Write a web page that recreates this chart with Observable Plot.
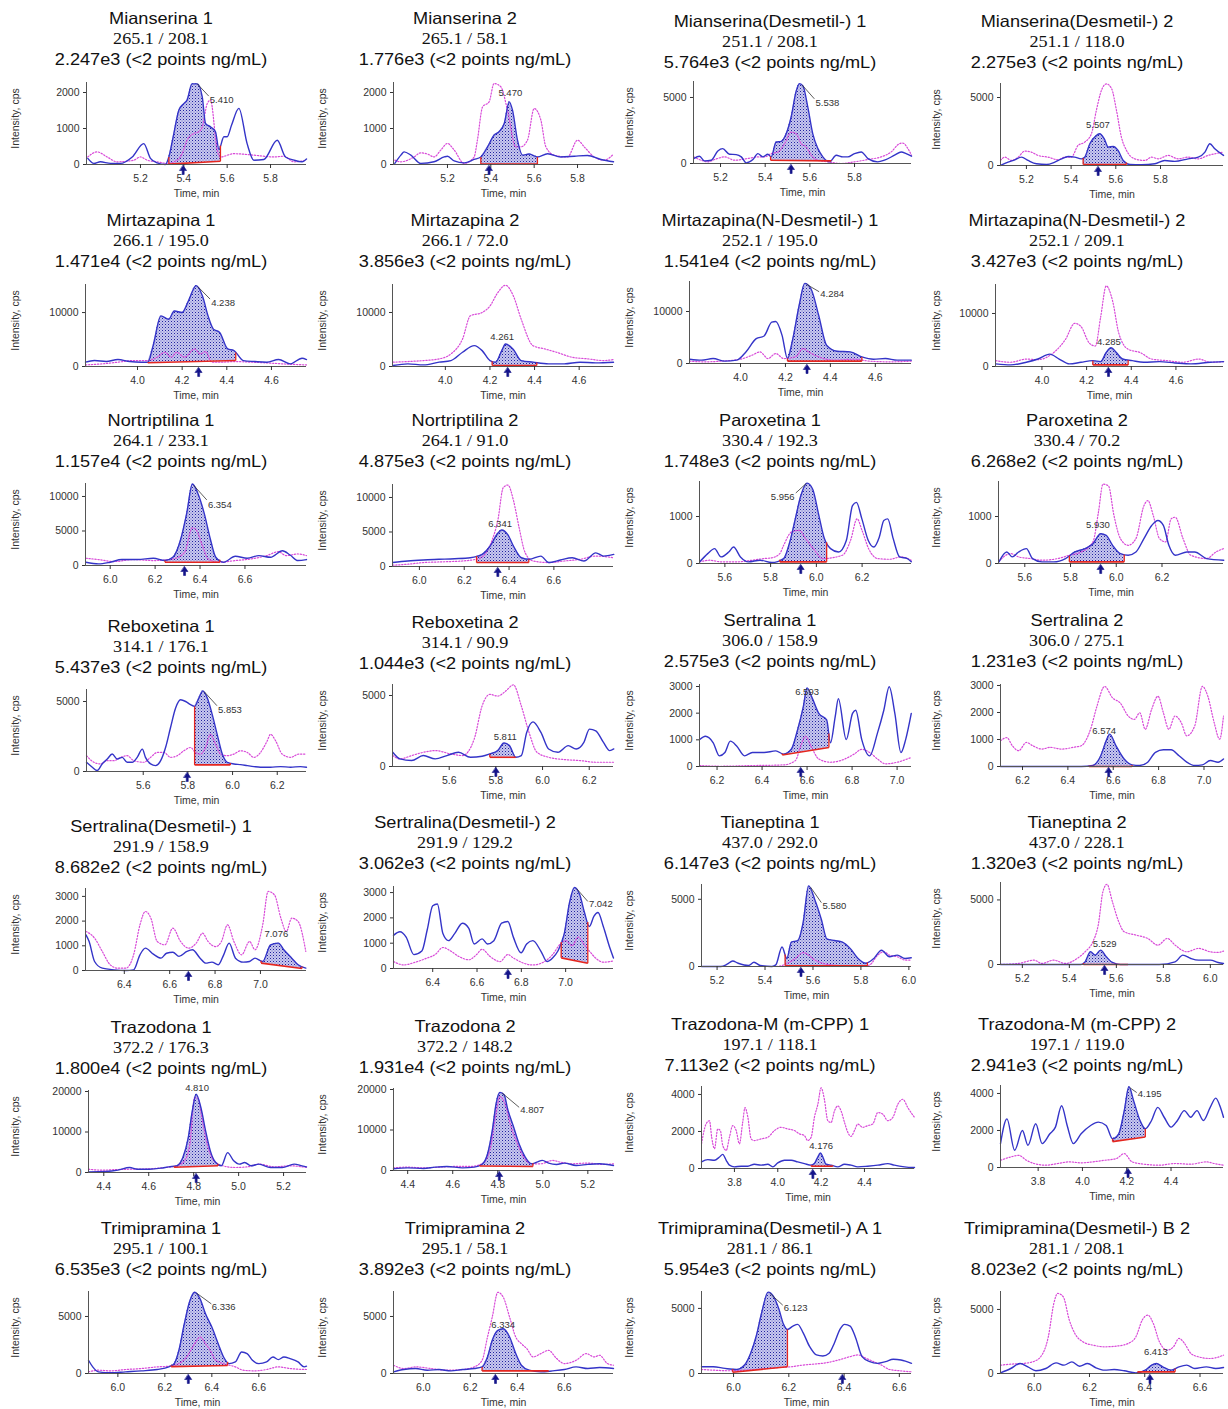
<!DOCTYPE html>
<html><head><meta charset="utf-8">
<script src="https://cdn.jsdelivr.net/npm/d3@7"></script>
<script src="https://cdn.jsdelivr.net/npm/@observablehq/plot@0.6"></script>
<style>
body{margin:0;background:#fff;}
#page{position:relative;width:1228px;height:1409px;overflow:hidden;background:#fff;}
.t{position:absolute;white-space:nowrap;color:#111;font-size:16.5px;line-height:1;transform:translate(-50%,-50%) scaleX(1.1);}
.sans{font-family:"Liberation Sans",Arial,sans-serif;}
.serif{font-family:"Liberation Serif","Times New Roman",serif;}
</style></head><body>
<svg width="0" height="0" style="position:absolute"><defs>
<pattern id="dots" width="3" height="3" patternUnits="userSpaceOnUse"><rect width="3" height="3" fill="#c8c8ee"/><rect width="1" height="1" fill="#2020a0"/><rect x="1.5" y="1.5" width="1" height="1" fill="#6a6ac8"/></pattern>
</defs></svg>
<div id="page"></div>
<script>
// ---------- text ----------
const titles = ["Mianserina 1","Mianserina 2","Mianserina(Desmetil-) 1","Mianserina(Desmetil-) 2",
"Mirtazapina 1","Mirtazapina 2","Mirtazapina(N-Desmetil-) 1","Mirtazapina(N-Desmetil-) 2",
"Nortriptilina 1","Nortriptilina 2","Paroxetina 1","Paroxetina 2",
"Reboxetina 1","Reboxetina 2","Sertralina 1","Sertralina 2",
"Sertralina(Desmetil-) 1","Sertralina(Desmetil-) 2","Tianeptina 1","Tianeptina 2",
"Trazodona 1","Trazodona 2","Trazodona-M (m-CPP) 1","Trazodona-M (m-CPP) 2",
"Trimipramina 1","Trimipramina 2","Trimipramina(Desmetil-) A 1","Trimipramina(Desmetil-) B 2"];
const transitions = ["265.1 / 208.1","265.1 / 58.1","251.1 / 208.1","251.1 / 118.0",
"266.1 / 195.0","266.1 / 72.0","252.1 / 195.0","252.1 / 209.1",
"264.1 / 233.1","264.1 / 91.0","330.4 / 192.3","330.4 / 70.2",
"314.1 / 176.1","314.1 / 90.9","306.0 / 158.9","306.0 / 275.1",
"291.9 / 158.9","291.9 / 129.2","437.0 / 292.0","437.0 / 228.1",
"372.2 / 176.3","372.2 / 148.2","197.1 / 118.1","197.1 / 119.0",
"295.1 / 100.1","295.1 / 58.1","281.1 / 86.1","281.1 / 208.1"];
const heights = ["2.247e3","1.776e3","5.764e3","2.275e3","1.471e4","3.856e3","1.541e4","3.427e3",
"1.157e4","4.875e3","1.748e3","6.268e2","5.437e3","1.044e3","2.575e3","1.231e3",
"8.682e2","3.062e3","6.147e3","1.320e3","1.800e4","1.931e4","7.113e2","2.941e3",
"6.535e3","3.892e3","5.954e3","8.023e2"];
const unitText = " (<2 points ng/mL)";

// ---------- scales / ticks ----------
const xDomain = [[4.951,5.966],[4.951,5.966],[5.079,6.055],[5.084,6.082],
[3.767,4.757],[3.763,4.754],[3.773,4.761],[3.792,4.813],
[5.89,6.874],[5.88,6.866],[5.489,6.416],[5.485,6.469],
[5.346,6.331],[5.357,6.304],[6.122,7.064],[6.103,7.086],
[6.229,7.203],[6.223,7.216],[5.135,6.011],[5.107,6.056],
[4.332,5.302],[4.337,5.314],[3.648,4.631],[3.63,4.637],
[5.875,6.803],[5.873,6.809],[5.884,6.644],[5.878,6.685]];
const yMax = [2278,2278,6210,6030,15200,15185,15770,15470,11880,11880,1745,1745,5857,5775,3075,3037,
3320,3240,6100,6350,20250,20250,4430,4430,7190,7190,6300,6400];
const xTicks = [[5.2,5.4,5.6,5.8],[5.2,5.4,5.6,5.8],[5.2,5.4,5.6,5.8],[5.2,5.4,5.6,5.8],
[4.0,4.2,4.4,4.6],[4.0,4.2,4.4,4.6],[4.0,4.2,4.4,4.6],[4.0,4.2,4.4,4.6],
[6.0,6.2,6.4,6.6],[6.0,6.2,6.4,6.6],[5.6,5.8,6.0,6.2],[5.6,5.8,6.0,6.2],
[5.6,5.8,6.0,6.2],[5.6,5.8,6.0,6.2],[6.2,6.4,6.6,6.8,7.0],[6.2,6.4,6.6,6.8,7.0],
[6.4,6.6,6.8,7.0],[6.4,6.6,6.8,7.0],[5.2,5.4,5.6,5.8,6.0],[5.2,5.4,5.6,5.8,6.0],
[4.4,4.6,4.8,5.0,5.2],[4.4,4.6,4.8,5.0,5.2],[3.8,4.0,4.2,4.4],[3.8,4.0,4.2,4.4],
[6.0,6.2,6.4,6.6],[6.0,6.2,6.4,6.6],[6.0,6.2,6.4,6.6],[6.0,6.2,6.4,6.6]];
const yTicks = [[0,1000,2000],[0,1000,2000],[0,5000],[0,5000],
[0,10000],[0,10000],[0,10000],[0,10000],
[0,5000,10000],[0,5000,10000],[0,1000],[0,1000],
[0,5000],[0,5000],[0,1000,2000,3000],[0,1000,2000,3000],
[0,1000,2000,3000],[0,1000,2000,3000],[0,5000],[0,5000],
[0,10000,20000],[0,10000,20000],[0,2000,4000],[0,2000,4000],
[0,5000],[0,5000],[0,5000],[0,5000]];

// ---------- traces [time, intensity] : blue = solid, pink = dotted ----------
const b01=[[4.957,170],[4.985,30],[5.015,75],[5.062,30],[5.108,30],[5.162,210],[5.215,580],[5.246,170],[5.277,45],[5.315,0],[5.331,210],[5.354,860],[5.377,1510],[5.4,1690],[5.415,1790],[5.438,2240],[5.462,2240],[5.485,1880],[5.5,1140],[5.523,1045],[5.546,910],[5.562,420],[5.585,770],[5.6,770],[5.62,1090],[5.654,1560],[5.692,580],[5.723,120],[5.769,140],[5.831,675],[5.869,210],[5.908,120],[5.946,75],[5.966,150]];
const m01=[[4.957,210],[5.0,350],[5.046,210],[5.092,75],[5.169,120],[5.2,210],[5.231,120],[5.277,75],[5.323,30],[5.369,120],[5.392,300],[5.415,675],[5.446,860],[5.469,910],[5.485,1045],[5.508,1690],[5.523,1790],[5.554,400],[5.569,210],[5.631,300],[5.723,260],[5.815,210],[5.862,230],[5.908,75],[5.966,120]];
const b02=[[4.957,30],[4.985,260],[5.0,350],[5.031,260],[5.077,30],[5.138,75],[5.185,210],[5.2,230],[5.231,100],[5.277,45],[5.323,140],[5.354,210],[5.385,490],[5.415,815],[5.438,910],[5.462,1140],[5.485,1740],[5.5,1510],[5.523,675],[5.546,260],[5.577,290],[5.615,210],[5.662,300],[5.723,210],[5.785,230],[5.846,250],[5.908,140],[5.966,75]];
const m02=[[4.957,120],[4.985,75],[5.046,210],[5.077,325],[5.108,290],[5.138,210],[5.169,400],[5.2,585],[5.231,400],[5.277,30],[5.323,210],[5.338,675],[5.362,1600],[5.392,1740],[5.415,2250],[5.446,2160],[5.477,1510],[5.515,490],[5.538,490],[5.569,675],[5.6,1555],[5.631,1230],[5.654,490],[5.692,260],[5.754,210],[5.8,675],[5.831,490],[5.877,210],[5.923,120],[5.966,290]];
const b03=[[5.08,375],[5.106,550],[5.128,200],[5.158,250],[5.188,950],[5.21,1125],[5.24,700],[5.27,675],[5.293,500],[5.315,50],[5.345,300],[5.367,750],[5.39,500],[5.412,700],[5.427,500],[5.449,1625],[5.472,1675],[5.494,2250],[5.516,3500],[5.539,5500],[5.554,6050],[5.569,5875],[5.591,4250],[5.613,2250],[5.636,1125],[5.658,500],[5.688,125],[5.718,625],[5.748,500],[5.77,500],[5.8,750],[5.83,875],[5.86,375],[5.904,125],[5.934,250],[5.979,625],[6.009,875],[6.031,750],[6.055,550]];
const m03=[[5.08,500],[5.113,250],[5.143,125],[5.173,300],[5.218,500],[5.263,250],[5.322,375],[5.367,500],[5.397,500],[5.427,750],[5.457,875],[5.487,1500],[5.516,2375],[5.539,2250],[5.561,1500],[5.584,1250],[5.606,625],[5.636,250],[5.681,125],[5.74,0],[5.8,125],[5.86,300],[5.919,500],[5.964,875],[6.001,1500],[6.016,1550],[6.039,1125],[6.055,625]];
const b04=[[5.084,0],[5.118,250],[5.148,420],[5.178,615],[5.207,370],[5.245,125],[5.29,75],[5.327,250],[5.357,490],[5.387,665],[5.416,615],[5.446,490],[5.461,615],[5.484,1600],[5.506,2090],[5.528,2340],[5.548,1970],[5.566,1350],[5.588,1400],[5.61,1110],[5.633,370],[5.663,75],[5.715,50],[5.775,125],[5.819,370],[5.864,300],[5.924,490],[5.969,615],[5.999,985],[6.021,1600],[6.043,1230],[6.082,740]];
const m04=[[5.084,370],[5.103,615],[5.133,370],[5.163,615],[5.193,1060],[5.222,985],[5.252,740],[5.297,615],[5.342,420],[5.372,615],[5.401,615],[5.431,1475],[5.461,1720],[5.491,2340],[5.513,4060],[5.536,5535],[5.558,6000],[5.581,5660],[5.603,4060],[5.625,2090],[5.648,1110],[5.685,490],[5.73,370],[5.76,615],[5.79,490],[5.834,740],[5.879,490],[5.924,615],[5.969,490],[6.013,740],[6.043,860],[6.082,985]];
const b05=[[3.767,800],[3.807,1100],[3.86,920],[3.912,1290],[3.965,920],[4.018,800],[4.046,800],[4.07,3860],[4.105,9380],[4.14,8770],[4.165,10300],[4.2,10000],[4.228,12140],[4.263,15000],[4.291,13060],[4.316,9380],[4.34,6930],[4.368,6310],[4.404,3250],[4.432,2940],[4.474,1100],[4.526,920],[4.579,800],[4.632,1290],[4.684,490],[4.737,1530],[4.757,1290]];
const m05=[[3.767,300],[3.842,490],[3.912,800],[3.982,1100],[4.046,1100],[4.088,1720],[4.123,2640],[4.151,1720],[4.175,2640],[4.211,1720],[4.256,3250],[4.281,2330],[4.305,2760],[4.333,800],[4.368,800],[4.439,920],[4.509,800],[4.579,670],[4.649,490],[4.757,300]];
const b06=[[3.765,180],[3.832,490],[3.902,300],[3.972,800],[4.025,1100],[4.077,2640],[4.13,3860],[4.165,2940],[4.2,1100],[4.225,800],[4.253,2940],[4.27,4170],[4.305,3130],[4.34,1100],[4.393,800],[4.463,490],[4.533,490],[4.604,800],[4.674,670],[4.754,800]];
const m06=[[3.765,800],[3.832,920],[3.902,1100],[3.972,1410],[4.025,2330],[4.077,5090],[4.112,9380],[4.165,10000],[4.2,11200],[4.235,13670],[4.27,15050],[4.305,13060],[4.34,8770],[4.393,3860],[4.446,3250],[4.498,2640],[4.568,1720],[4.639,1410],[4.709,1100],[4.754,1290]];
const b07=[[3.774,830],[3.826,640],[3.878,955],[3.93,450],[3.983,640],[4.024,2230],[4.07,4780],[4.105,5290],[4.139,7960],[4.157,8090],[4.185,5410],[4.209,955],[4.233,4780],[4.261,11150],[4.286,15400],[4.314,14330],[4.348,9240],[4.383,3500],[4.429,2360],[4.488,2230],[4.54,1270],[4.592,830],[4.645,955],[4.697,640],[4.76,640]];
const m07=[[3.774,450],[3.843,320],[3.913,450],[4.0,830],[4.052,1600],[4.087,2230],[4.122,955],[4.157,1910],[4.192,955],[4.244,1270],[4.279,2870],[4.303,2230],[4.348,1270],[4.418,640],[4.505,830],[4.575,450],[4.662,320],[4.76,450]];
const b08=[[3.793,490],[3.86,300],[3.93,800],[3.982,1410],[4.035,2330],[4.077,1410],[4.123,490],[4.175,800],[4.228,1100],[4.263,920],[4.288,2640],[4.309,3550],[4.333,2640],[4.361,1410],[4.404,1100],[4.456,800],[4.526,920],[4.596,670],[4.667,490],[4.754,800],[4.813,920]];
const m08=[[3.793,1100],[3.86,800],[3.93,1410],[3.982,1290],[4.053,2640],[4.105,5090],[4.147,8150],[4.175,7540],[4.211,4470],[4.239,3860],[4.263,9380],[4.288,15200],[4.316,12440],[4.344,6310],[4.386,3250],[4.439,2640],[4.491,1410],[4.561,1100],[4.632,800],[4.702,1410],[4.754,800],[4.813,920]];
const b09=[[5.892,475],[5.948,240],[6.0,475],[6.052,860],[6.122,860],[6.192,1050],[6.244,715],[6.279,1190],[6.314,3810],[6.341,7620],[6.366,11800],[6.39,10470],[6.418,7620],[6.446,3810],[6.47,1190],[6.505,475],[6.557,1330],[6.61,1050],[6.662,1430],[6.714,1190],[6.767,2140],[6.801,1520],[6.836,715],[6.874,860]];
const m09=[[5.892,1050],[5.948,860],[6.017,570],[6.105,860],[6.192,715],[6.279,950],[6.331,1900],[6.366,5470],[6.383,5140],[6.411,2860],[6.436,950],[6.488,475],[6.557,715],[6.627,950],[6.697,1430],[6.749,2000],[6.784,1430],[6.836,1670],[6.874,1430]];
const b10=[[5.881,570],[5.948,800],[6.017,945],[6.087,1040],[6.157,1130],[6.227,1270],[6.28,1750],[6.315,2930],[6.35,4810],[6.367,5290],[6.395,4580],[6.42,2930],[6.455,1270],[6.49,1040],[6.542,1510],[6.577,570],[6.629,945],[6.682,1270],[6.734,800],[6.787,1980],[6.822,1510],[6.867,1750]];
const m10=[[5.881,190],[5.948,330],[6.017,570],[6.087,660],[6.192,800],[6.262,1130],[6.297,1980],[6.325,3870],[6.35,6700],[6.374,11420],[6.395,11800],[6.42,9530],[6.444,5760],[6.472,1980],[6.507,800],[6.577,570],[6.647,800],[6.717,1040],[6.787,1510],[6.867,1270]];
const b11=[[5.49,35],[5.525,210],[5.555,317],[5.583,140],[5.617,245],[5.638,350],[5.668,140],[5.703,35],[5.754,70],[5.805,20],[5.857,105],[5.884,460],[5.908,950],[5.932,1440],[5.96,1710],[5.984,1580],[6.011,1020],[6.035,530],[6.062,317],[6.097,245],[6.131,490],[6.158,1230],[6.175,1300],[6.199,950],[6.227,490],[6.251,350],[6.275,560],[6.295,915],[6.312,950],[6.336,530],[6.364,140],[6.398,105],[6.415,35]];
const m11=[[5.49,35],[5.532,70],[5.583,35],[5.651,35],[5.72,70],[5.771,105],[5.805,120],[5.84,210],[5.857,387],[5.891,670],[5.925,705],[5.953,530],[5.987,317],[6.028,105],[6.114,176],[6.15,500],[6.178,950],[6.2,700],[6.23,300],[6.268,105],[6.319,90],[6.371,140],[6.415,70]];
const b12=[[5.487,35],[5.521,245],[5.545,140],[5.573,245],[5.607,317],[5.634,105],[5.675,35],[5.727,35],[5.778,105],[5.819,245],[5.864,317],[5.898,420],[5.932,634],[5.956,600],[5.984,387],[6.018,210],[6.052,176],[6.086,245],[6.121,530],[6.155,810],[6.182,915],[6.206,810],[6.23,387],[6.258,176],[6.309,245],[6.343,245],[6.395,105],[6.47,70]];
const m12=[[5.487,50],[5.538,210],[5.573,140],[5.624,105],[5.675,70],[5.744,105],[5.795,176],[5.847,245],[5.898,460],[5.922,1090],[5.942,1690],[5.966,1650],[5.99,1020],[6.018,530],[6.052,387],[6.086,530],[6.121,1230],[6.138,1340],[6.162,1020],[6.189,530],[6.216,460],[6.24,950],[6.258,985],[6.292,530],[6.326,176],[6.395,105],[6.436,245],[6.47,317]];
const b13=[[5.346,660],[5.372,305],[5.394,70],[5.416,540],[5.439,890],[5.461,1245],[5.484,890],[5.506,1010],[5.528,660],[5.551,660],[5.573,1010],[5.596,1600],[5.61,1010],[5.633,540],[5.655,420],[5.678,775],[5.7,1715],[5.722,3125],[5.745,4535],[5.767,5120],[5.79,5000],[5.812,4770],[5.83,4650],[5.849,5240],[5.867,5760],[5.887,5240],[5.909,4065],[5.931,2655],[5.954,1245],[5.976,660],[6.006,540],[6.036,495],[6.066,420],[6.096,350],[6.125,305],[6.17,305],[6.215,350],[6.26,305],[6.304,350],[6.331,305]];
const m13=[[5.346,1130],[5.379,660],[5.409,540],[5.439,775],[5.469,775],[5.499,1010],[5.528,1130],[5.558,775],[5.603,660],[5.633,1010],[5.663,1360],[5.693,1360],[5.722,1010],[5.752,1130],[5.782,1480],[5.812,1715],[5.834,1360],[5.857,1245],[5.879,1715],[5.901,2655],[5.924,1950],[5.946,1245],[5.976,1130],[6.006,1245],[6.036,1480],[6.066,1360],[6.096,1010],[6.125,1360],[6.155,2185],[6.17,2655],[6.193,2185],[6.222,1245],[6.26,1010],[6.297,1245],[6.331,1245]];
const b14=[[5.358,1000],[5.389,535],[5.439,420],[5.489,770],[5.54,535],[5.59,770],[5.64,1000],[5.691,650],[5.741,720],[5.774,885],[5.808,1120],[5.835,1650],[5.858,1470],[5.885,650],[5.909,770],[5.932,2400],[5.959,3145],[5.993,2400],[6.026,1235],[6.066,1000],[6.11,1470],[6.144,1235],[6.177,1700],[6.201,2630],[6.228,2515],[6.261,1700],[6.288,1120],[6.305,1235]];
const m14=[[5.358,770],[5.389,535],[5.439,770],[5.489,1000],[5.54,1120],[5.607,885],[5.657,770],[5.707,1930],[5.741,4265],[5.774,5080],[5.808,4960],[5.842,5310],[5.875,5750],[5.909,4265],[5.942,2400],[5.976,1000],[6.026,650],[6.093,490],[6.16,420],[6.228,300],[6.305,300]];
const b15=[[6.123,1010],[6.148,1135],[6.183,890],[6.21,400],[6.235,525],[6.259,950],[6.287,770],[6.322,400],[6.357,525],[6.409,525],[6.461,585],[6.496,465],[6.53,645],[6.558,1380],[6.583,2230],[6.6,2950],[6.621,2600],[6.652,1990],[6.687,1745],[6.704,890],[6.725,1870],[6.739,2540],[6.774,1010],[6.802,1990],[6.816,2110],[6.843,1010],[6.878,400],[6.913,1260],[6.941,2110],[6.965,2990],[6.99,1990],[7.017,525],[7.038,1010],[7.063,1990]];
const m15=[[6.123,35],[6.217,10],[6.357,35],[6.496,60],[6.548,220],[6.572,770],[6.593,1135],[6.617,770],[6.652,280],[6.704,160],[6.774,305],[6.809,465],[6.843,645],[6.878,525],[6.913,280],[6.948,100],[7.0,160],[7.063,340]];
const b16=[[6.103,0],[6.183,0],[6.355,0],[6.459,0],[6.51,35],[6.545,400],[6.569,950],[6.585,1200],[6.61,800],[6.648,280],[6.683,60],[6.717,35],[6.752,160],[6.786,525],[6.821,620],[6.855,620],[6.89,400],[6.924,160],[6.959,35],[6.993,60],[7.028,220],[7.062,160],[7.086,280]];
const m16=[[6.103,950],[6.131,1070],[6.155,770],[6.183,585],[6.217,890],[6.245,770],[6.286,645],[6.321,710],[6.372,645],[6.424,710],[6.459,770],[6.5,1380],[6.528,2230],[6.562,2965],[6.597,2540],[6.631,2350],[6.666,1870],[6.693,1745],[6.717,1990],[6.741,1380],[6.769,2110],[6.797,2600],[6.821,1990],[6.845,1380],[6.872,1870],[6.9,1620],[6.924,1135],[6.959,1500],[6.993,2965],[7.017,2600],[7.045,1620],[7.069,1010],[7.086,1870]];
const b17=[[6.231,1445],[6.245,1175],[6.269,365],[6.303,95],[6.355,27],[6.407,0],[6.441,27],[6.469,635],[6.493,905],[6.528,660],[6.562,500],[6.586,700],[6.614,740],[6.641,570],[6.676,770],[6.7,840],[6.734,500],[6.759,297],[6.786,340],[6.814,230],[6.838,635],[6.862,1110],[6.89,500],[6.924,340],[6.952,365],[6.976,500],[7.01,365],[7.045,1040],[7.079,1110],[7.103,840],[7.138,500],[7.166,230],[7.2,95]];
const m17=[[6.231,1580],[6.269,1310],[6.303,770],[6.338,230],[6.372,95],[6.407,95],[6.441,635],[6.469,1850],[6.493,2390],[6.517,2120],[6.545,1175],[6.579,1040],[6.614,1715],[6.648,1175],[6.683,905],[6.717,1110],[6.745,1510],[6.769,1175],[6.803,970],[6.828,1175],[6.855,1850],[6.883,1175],[6.917,635],[6.952,1175],[6.976,840],[7.01,1850],[7.034,3200],[7.062,3060],[7.09,2120],[7.114,1580],[7.138,2120],[7.166,1985],[7.2,770]];
const b18=[[6.223,1310],[6.252,1450],[6.28,1240],[6.315,550],[6.351,690],[6.375,1520],[6.4,2480],[6.421,2550],[6.446,1380],[6.471,1100],[6.499,1380],[6.534,1790],[6.563,1590],[6.587,970],[6.623,1170],[6.647,970],[6.676,1100],[6.711,1790],[6.739,1860],[6.764,1240],[6.799,620],[6.824,970],[6.852,1100],[6.888,690],[6.916,275],[6.941,415],[6.965,690],[6.994,1380],[7.018,2620],[7.04,3200],[7.064,2900],[7.085,2210],[7.107,1660],[7.128,2070],[7.146,2210],[7.17,1660],[7.199,830],[7.216,415]];
const m18=[[6.223,275],[6.269,140],[6.322,250],[6.375,415],[6.411,550],[6.446,830],[6.481,690],[6.517,480],[6.563,345],[6.598,550],[6.623,760],[6.658,480],[6.704,275],[6.739,550],[6.764,415],[6.799,250],[6.852,140],[6.905,275],[6.941,550],[6.976,970],[7.001,1100],[7.029,900],[7.057,1240],[7.082,970],[7.107,690],[7.135,415],[7.17,250],[7.216,300]];
const b19=[[5.135,0],[5.216,0],[5.242,170],[5.265,410],[5.288,240],[5.331,70],[5.354,315],[5.38,70],[5.429,0],[5.445,120],[5.471,1450],[5.491,600],[5.51,1810],[5.537,1930],[5.559,3260],[5.582,6000],[5.608,4950],[5.635,3500],[5.658,2050],[5.69,1930],[5.723,1810],[5.756,1330],[5.788,600],[5.821,240],[5.854,600],[5.886,1210],[5.919,725],[5.952,845],[5.984,600],[6.01,650]];
const m19=[[5.135,0],[5.314,0],[5.445,0],[5.494,240],[5.527,600],[5.559,1040],[5.582,845],[5.608,480],[5.641,240],[5.674,120],[5.739,50],[5.805,0],[5.837,120],[5.87,845],[5.896,1090],[5.919,845],[5.952,725],[5.984,480],[6.01,480]];
const b20=[[5.107,0],[5.45,0],[5.467,200],[5.49,985],[5.51,725],[5.533,1110],[5.557,600],[5.583,155],[5.617,0],[5.783,0],[5.85,200],[5.883,725],[5.917,465],[5.95,335],[6.0,335],[6.033,155],[6.056,80]];
const m20=[[5.107,0],[5.183,80],[5.25,335],[5.283,80],[5.333,335],[5.383,80],[5.433,465],[5.467,985],[5.5,1760],[5.523,3060],[5.543,5650],[5.56,6215],[5.583,4870],[5.61,3315],[5.633,2540],[5.683,2280],[5.733,2020],[5.777,1500],[5.817,2020],[5.85,1500],[5.9,985],[5.95,1245],[6.0,985],[6.033,935],[6.056,1040]];
const b21=[[4.332,165],[4.41,250],[4.463,575],[4.515,1235],[4.55,820],[4.602,820],[4.654,1070],[4.689,1400],[4.724,1650],[4.752,3700],[4.776,8640],[4.794,15200],[4.811,19340],[4.832,16050],[4.853,10290],[4.874,5350],[4.898,2470],[4.923,1650],[4.951,4900],[4.978,2880],[5.003,2060],[5.027,2470],[5.055,1650],[5.09,2060],[5.142,1235],[5.194,1235],[5.247,2060],[5.282,1650],[5.302,1400]];
const m21=[[4.332,820],[4.393,575],[4.463,740],[4.532,820],[4.602,900],[4.672,1235],[4.724,1650],[4.759,2880],[4.783,7000],[4.804,18500],[4.818,18350],[4.839,12760],[4.86,7000],[4.881,3700],[4.916,1900],[4.985,1235],[5.038,1400],[5.09,2060],[5.16,1400],[5.229,1650],[5.302,1235]];
const b22=[[4.337,415],[4.4,660],[4.47,500],[4.522,830],[4.574,1000],[4.643,660],[4.696,830],[4.73,1500],[4.755,4150],[4.776,9960],[4.793,16600],[4.81,19300],[4.828,18700],[4.845,14940],[4.87,10800],[4.894,6640],[4.922,3320],[4.95,1660],[4.974,2075],[4.998,2490],[5.026,1830],[5.061,1500],[5.096,1830],[5.148,1245],[5.2,1500],[5.252,1660],[5.314,1245]];
const m22=[[4.337,660],[4.4,830],[4.47,660],[4.539,830],[4.609,1000],[4.678,1000],[4.73,1660],[4.765,4980],[4.79,13280],[4.81,18260],[4.831,16600],[4.859,10800],[4.887,6640],[4.915,3320],[4.95,1660],[4.991,1660],[5.043,2490],[5.078,2075],[5.13,1660],[5.2,1830],[5.27,1500],[5.314,1660]];
const b23=[[3.648,355],[3.677,480],[3.708,445],[3.731,620],[3.746,765],[3.762,445],[3.777,180],[3.8,90],[3.831,125],[3.862,125],[3.892,230],[3.923,180],[3.954,230],[3.977,90],[4.0,300],[4.031,445],[4.062,445],[4.092,355],[4.123,265],[4.154,180],[4.169,265],[4.185,620],[4.197,835],[4.208,620],[4.223,230],[4.246,180],[4.277,90],[4.308,230],[4.338,180],[4.369,90],[4.415,125],[4.462,180],[4.508,265],[4.538,180],[4.585,90],[4.631,50]];
const m23=[[3.648,1335],[3.669,2400],[3.685,2580],[3.695,1690],[3.708,1070],[3.723,2135],[3.735,2050],[3.746,1245],[3.762,980],[3.777,1690],[3.792,2315],[3.808,2050],[3.823,1335],[3.838,2490],[3.849,3290],[3.862,2760],[3.877,1600],[3.892,1510],[3.923,1600],[3.954,1690],[3.985,2050],[4.015,2225],[4.046,2135],[4.077,2050],[4.1,1870],[4.123,1780],[4.138,1510],[4.154,1690],[4.169,2760],[4.185,3470],[4.2,4360],[4.215,3740],[4.231,2580],[4.246,2490],[4.262,3115],[4.277,3380],[4.292,3115],[4.308,2490],[4.323,1960],[4.338,1730],[4.354,2050],[4.369,2400],[4.392,2225],[4.415,2315],[4.438,2400],[4.462,3025],[4.485,2935],[4.508,2580],[4.531,2760],[4.554,3470],[4.577,3740],[4.6,3290],[4.631,2760]];
const b24=[[3.63,1290],[3.659,2625],[3.694,930],[3.729,2000],[3.754,1200],[3.789,2360],[3.818,1290],[3.853,1820],[3.878,2180],[3.906,3340],[3.931,2270],[3.959,1290],[3.994,1820],[4.037,2270],[4.072,2450],[4.107,2270],[4.136,1550],[4.164,1820],[4.189,3070],[4.21,4360],[4.231,3610],[4.26,2540],[4.284,2090],[4.312,2540],[4.34,3250],[4.369,2715],[4.4,2180],[4.429,2540],[4.46,3070],[4.489,2715],[4.517,3070],[4.546,2540],[4.577,3250],[4.602,3750],[4.623,3250],[4.637,2715]];
const m24=[[3.63,390],[3.676,570],[3.712,660],[3.747,390],[3.782,215],[3.835,125],[3.888,215],[3.941,305],[3.994,250],[4.047,305],[4.1,390],[4.153,480],[4.189,750],[4.224,305],[4.277,180],[4.348,125],[4.418,215],[4.489,180],[4.56,305],[4.595,215],[4.637,125]];
const b25=[[5.875,1160],[5.893,580],[5.917,145],[5.967,60],[6.033,145],[6.1,230],[6.167,350],[6.217,580],[6.24,870],[6.26,2035],[6.283,4360],[6.307,6395],[6.327,7120],[6.35,6540],[6.373,5230],[6.4,4070],[6.427,2615],[6.45,1450],[6.473,870],[6.5,1015],[6.527,1890],[6.55,1745],[6.573,1160],[6.6,870],[6.633,1015],[6.66,1450],[6.683,1220],[6.707,1450],[6.733,1310],[6.767,1015],[6.793,580],[6.803,640]];
const m25=[[5.875,145],[5.917,290],[5.967,230],[6.033,350],[6.1,435],[6.167,580],[6.217,640],[6.26,870],[6.293,1450],[6.327,2615],[6.35,3200],[6.373,2615],[6.393,2035],[6.417,1160],[6.45,870],[6.5,580],[6.533,290],[6.583,230],[6.633,350],[6.683,580],[6.733,435],[6.803,350]];
const b26=[[5.873,145],[5.917,350],[5.967,435],[6.017,290],[6.067,350],[6.117,230],[6.167,350],[6.217,435],[6.25,580],[6.273,1450],[6.293,2900],[6.317,3780],[6.34,3925],[6.367,3200],[6.393,1745],[6.417,725],[6.45,290],[6.5,145],[6.55,230],[6.6,350],[6.65,580],[6.7,435],[6.75,520],[6.809,435]];
const m26=[[5.873,725],[5.917,435],[5.967,580],[6.033,435],[6.1,290],[6.167,350],[6.217,580],[6.25,1160],[6.273,3200],[6.293,4940],[6.317,7120],[6.34,6690],[6.367,4940],[6.393,3200],[6.417,2615],[6.44,2180],[6.467,1450],[6.5,1745],[6.533,2035],[6.567,1310],[6.6,870],[6.65,1160],[6.693,1745],[6.727,1450],[6.75,1600],[6.783,870],[6.809,725]];
const b27=[[5.884,520],[5.926,520],[5.969,390],[6.011,310],[6.04,650],[6.062,1560],[6.082,2865],[6.102,4690],[6.125,6250],[6.144,5940],[6.164,4950],[6.181,3775],[6.195,3385],[6.215,3645],[6.232,3775],[6.252,3125],[6.275,2080],[6.3,1430],[6.323,1350],[6.346,1560],[6.365,2345],[6.385,3385],[6.402,3775],[6.422,3645],[6.442,2735],[6.465,1300],[6.493,910],[6.521,780],[6.55,910],[6.578,1090],[6.606,1040],[6.644,780]];
const m27=[[5.884,310],[5.926,260],[5.983,210],[6.04,260],[6.082,310],[6.125,390],[6.167,470],[6.21,520],[6.252,650],[6.295,730],[6.337,830],[6.38,1040],[6.422,1300],[6.45,1430],[6.479,1170],[6.507,910],[6.535,650],[6.564,310],[6.601,210],[6.644,130]];
const b28=[[5.878,50],[5.915,390],[5.949,780],[5.977,520],[6.006,210],[6.042,390],[6.079,830],[6.108,650],[6.136,910],[6.164,570],[6.193,780],[6.221,470],[6.255,260],[6.289,310],[6.326,210],[6.368,50],[6.402,260],[6.425,650],[6.442,780],[6.465,520],[6.496,260],[6.524,520],[6.552,650],[6.581,390],[6.623,520],[6.657,390],[6.685,470]];
const m28=[[5.878,650],[5.915,730],[5.958,780],[5.994,910],[6.023,1300],[6.051,2865],[6.071,5470],[6.085,6250],[6.105,5990],[6.127,4170],[6.147,3125],[6.176,2475],[6.212,2215],[6.255,2085],[6.297,2135],[6.34,2345],[6.368,2865],[6.391,4170],[6.411,4560],[6.431,3905],[6.453,2475],[6.482,1820],[6.504,2085],[6.524,2735],[6.544,2345],[6.567,1560],[6.595,1300],[6.637,1170],[6.685,1430]];

const blueTraces=[b01,b02,b03,b04,b05,b06,b07,b08,b09,b10,b11,b12,b13,b14,b15,b16,b17,b18,b19,b20,b21,b22,b23,b24,b25,b26,b27,b28];
const pinkTraces=[m01,m02,m03,m04,m05,m06,m07,m08,m09,m10,m11,m12,m13,m14,m15,m16,m17,m18,m19,m20,m21,m22,m23,m24,m25,m26,m27,m28];

// integration window: [start time, baseline at start, end time, baseline at end]
const integration=[[5.331,10,5.569,90],[5.354,10,5.615,10],[5.424,250,5.695,200],[5.454,75,5.648,75],
[4.046,700,4.44,1100],[4.21,180,4.41,180],[4.209,450,4.54,450],[4.228,300,4.386,300],
[6.244,475,6.488,475],[6.255,570,6.488,570],[5.84,35,6.045,35],[5.795,35,6.035,35],
[5.83,470,5.99,470],[5.774,650,5.885,650],[6.49,430,6.697,710],[6.493,0,6.683,0],
[7.003,300,7.183,80],[6.98,420,7.1,210],[5.484,50,5.827,50],[5.46,0,5.65,0],
[4.713,1300,4.908,1650],[4.72,1100,4.956,1000],[4.154,125,4.254,125],[4.136,1400,4.284,1650],
[6.227,600,6.467,700],[6.25,230,6.533,230],[5.997,100,6.195,520],[6.374,130,6.51,130]];
// expected retention time (arrow)
const expectedRT=[5.397,5.392,5.516,5.521,4.274,4.28,4.296,4.298,6.331,6.35,5.932,5.932,5.797,5.8,6.572,6.58,6.683,6.74,5.55,5.55,4.811,4.807,4.162,4.206,6.3,6.307,6.394,6.419];
// peak label: [text, time, intensity, anchor, (leader from t, v, to t, v)]
const peakLabels=[["5.410",5.52,1780,"start",5.462,2240,5.515,1900],["5.470",5.49,1980,"middle"],["5.538",5.625,4600,"start",5.565,5950,5.62,4900],["5.507",5.52,2950,"middle"],
["4.238",4.33,11800,"start",4.27,14800,4.325,12500],["4.261",4.255,5500,"middle"],["4.284",4.355,13300,"start",4.295,15200,4.35,13800],["4.285",4.3,4700,"middle"],
["6.354",6.435,8800,"start",6.372,11600,6.43,9500],["6.341",6.36,6100,"middle"],["5.956",5.905,1420,"end",5.955,1700,5.91,1500],["5.930",5.92,830,"middle"],
["5.853",5.935,4400,"start",5.873,5700,5.93,4700],["5.811",5.84,2050,"middle"],["6.593",6.6,2780,"middle"],["6.574",6.56,1330,"middle"],
["7.076",7.07,1480,"middle"],["7.042",7.105,2550,"start",7.05,3150,7.1,2650],["5.580",5.64,4470,"start",5.59,5900,5.635,4750],["5.529",5.55,1600,"middle"],
["4.810",4.815,20800,"middle"],["4.807",4.9,14900,"start",4.82,19100,4.895,15600],["4.176",4.2,1200,"middle"],["4.195",4.25,3950,"start",4.215,4300,4.245,4050],
["6.336",6.4,5800,"start",6.335,7050,6.398,6100],["6.334",6.34,4300,"middle"],["6.123",6.182,5000,"start",6.132,6150,6.178,5250],["6.413",6.44,1650,"middle"]];

// ---------- layout (pixels) ----------
const titleY=[18,18,21,21,220,220,220,220,420,420,420,420,626,622,620,620,826,822,822,822,1027,1026,1024,1024,1228,1228,1228,1228];
const zeroY=[164,164,163,165,366,366,363,366,565,566,563,563,771,766,766,766,970,968,966,964,1172,1170,1168,1167,1373,1373,1373,1373];
const axisLeft=[86,86,79,79,85,85,75,74,85,85,85,77,86,85,85,79,85,86,87,79,88,86,87,79,88,86,87,79];
const plotRight=[306,306,297,302,306,306,297,302,306,306,297,302,306,306,297,302,306,306,297,302,306,306,300,302,306,306,297,302];
const colLeft=[0,307,614,921], textCenter=[161,158,156,156];
const CELL_W=307, PLOT_H=82, MT=14, MB=40;

const arrowShape={draw(c,l){c.moveTo(0,-l);c.lineTo(3.4,-l+5);c.lineTo(1,-l+5);c.lineTo(1,0);c.lineTo(-1,0);c.lineTo(-1,-l+5);c.lineTo(-3.4,-l+5);c.closePath();}};
function at(s,t){for(let k=0;k<s.length-1;k++){const [ta,va]=s[k],[tb,vb]=s[k+1];if(t>=ta&&t<=tb)return va+(vb-va)*(t-ta)/(tb-ta);}return s[s.length-1][1];}

const page=document.getElementById("page");
for(let i=0;i<28;i++){
  const col=i%4, x0=colLeft[col];
  [[titles[i],0,"sans"],[transitions[i],21,"serif"],[heights[i]+unitText,41,"sans"]].forEach(([txt,off,cls])=>{
    const d=document.createElement("div");d.className="t "+cls;d.textContent=txt;
    d.style.left=(x0+textCenter[col])+"px";d.style.top=(titleY[i]+off)+"px";page.appendChild(d);
  });
  const blue=blueTraces[i], pink=pinkTraces[i];
  const [t0,b0,t1,b1]=integration[i];
  const base=t=>b0+(b1-b0)*(t-t0)/(t1-t0);
  const shade=[[t0,at(blue,t0)],...blue.filter(d=>d[0]>t0&&d[0]<t1),[t1,at(blue,t1)]].map(([t,v])=>({t,v,b:base(t)}));
  const ends=[[t0,b0,at(blue,t0)],[t1,b1,at(blue,t1)]];
  const lab=peakLabels[i];
  const marks=[
    Plot.areaY(shade,{x:"t",y1:"b",y2:"v",fill:"url(#dots)",curve:"monotone-x"}),
    Plot.line(pink,{x:d=>d[0],y:d=>d[1],stroke:"#d84ad8",strokeWidth:1.2,strokeDasharray:"1.3,1.7",curve:"monotone-x"}),
    Plot.line(blue,{x:d=>d[0],y:d=>d[1],stroke:"#3434c8",strokeWidth:1.4,curve:"monotone-x"}),
    Plot.link([integration[i]],{x1:d=>d[0],y1:d=>d[1],x2:d=>d[2],y2:d=>d[3],stroke:"#e4261f",strokeWidth:1.6}),
    Plot.link(ends,{x1:d=>d[0],x2:d=>d[0],y1:d=>d[1],y2:d=>d[2],stroke:"#e4261f",strokeWidth:1.3}),
    Plot.ruleY([0],{stroke:"#555"}),
    Plot.ruleX([xDomain[i][0]],{stroke:"#555"}),
    Plot.axisX({ticks:xTicks[i],tickFormat:d3.format(".1f"),tickSize:4,tickPadding:6,label:null}),
    Plot.axisY({ticks:yTicks[i],tickFormat:d3.format("d"),tickSize:3,tickPadding:4,label:null}),
    Plot.text(["Time, min"],{frameAnchor:"bottom",lineAnchor:"middle",textAnchor:"middle",dy:29,fontSize:10.5}),
    Plot.text(["Intensity, cps"],{frameAnchor:"left",textAnchor:"middle",lineAnchor:"middle",dx:15-axisLeft[i],dy:-5,rotate:-90,fontSize:10.5}),
    Plot.text([lab],{x:d=>d[1],y:d=>d[2],text:d=>d[0],textAnchor:lab[3],fontSize:9.5,fill:"#333"}),
    Plot.vector([expectedRT[i]],{x:d=>d,y:()=>0,length:9,anchor:"start",shape:arrowShape,fill:"#14148a",stroke:"#14148a",strokeWidth:0.6,dy:10})
  ];
  if(lab.length>4) marks.push(Plot.link([lab],{x1:d=>d[4],y1:d=>d[5],x2:d=>d[6],y2:d=>d[7],stroke:"#333",strokeWidth:0.8}));
  const chart=Plot.plot({
    width:CELL_W,height:MT+PLOT_H+MB,marginTop:MT,marginBottom:MB,
    marginLeft:axisLeft[i],marginRight:CELL_W-plotRight[i],
    x:{domain:xDomain[i]},y:{domain:[0,yMax[i]]},
    style:{fontFamily:"Liberation Sans, Arial, sans-serif",fontSize:"10.5px",color:"#333",background:"transparent",overflow:"visible"},
    marks
  });
  chart.style.position="absolute";chart.style.left=x0+"px";chart.style.top=(zeroY[i]-PLOT_H-MT)+"px";
  page.appendChild(chart);
}
</script>
</body></html>
